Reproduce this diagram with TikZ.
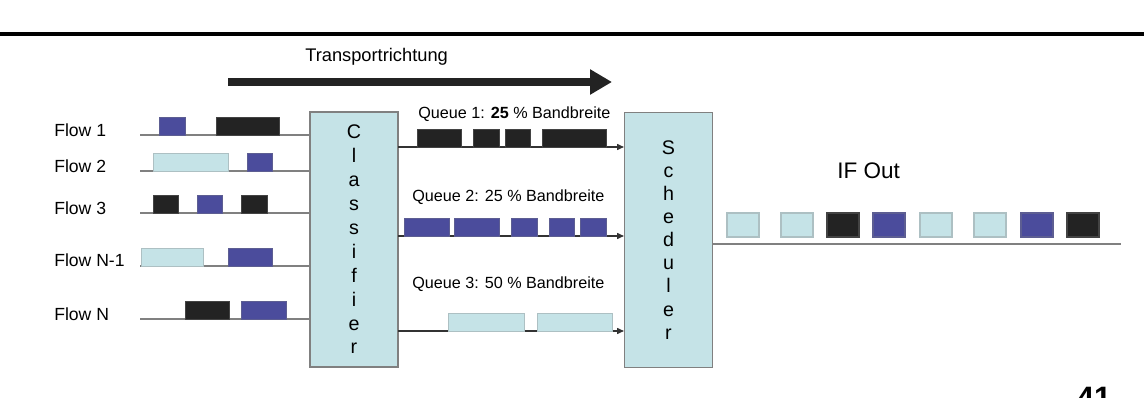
\documentclass[tikz,border=0pt]{standalone}
\usepackage{fontspec}
\setmainfont{Liberation Sans}
\usetikzlibrary{arrows.meta}

\definecolor{pblue}{HTML}{4B4C9C}
\definecolor{pblack}{HTML}{232323}
\definecolor{pcyan}{HTML}{C5E3E7}
\definecolor{wiregray}{HTML}{808080}

\tikzset{
  wire/.style={draw=wiregray, line width=0.8pt},
  unit/.style={draw=wiregray, fill=pcyan, line width=0.8pt, minimum width=2.2cm, minimum height=6.375cm, align=center, inner sep=0pt},
  lbl/.style={anchor=base west, inner sep=0pt, font=\fontsize{12.5}{14}\selectfont},
  qlbl/.style={anchor=base west, inner sep=0pt, font=\fontsize{11.5}{13}\selectfont}
}

\begin{document}
\begin{tikzpicture}[x=0.025cm, y=-0.025cm]

\useasboundingbox (0,0) rectangle (1144,398);

\draw [black, line width=2.8pt] (0,34) -- (1144,34);

% direction of transport
\node[anchor=base west, inner sep=0pt, font=\fontsize{13}{15}\selectfont] (dir) at (305,62) {Transportrichtung};
\coordinate (dira) at (228,82);
\coordinate (dirb) at (612,82);
\draw [pblack, line width=5pt, -{Triangle[length=0.55cm,width=0.6cm]}] (dira) -- (dirb);

% classifier and scheduler
\node[unit, font=\fontsize{14}{17}\selectfont, text depth=0pt] (cls) at (354,239.5) {C\\l\\a\\s\\s\\i\\f\\i\\e\\r};
\node[unit, font=\fontsize{14}{16.4}\selectfont] (sch) at (668.5,240) {S\\c\\h\\e\\d\\u\\l\\e\\r};

% flows
\node[lbl] (fl1) at (54,137) {Flow 1};
\node[lbl] (fl2) at (54,173) {Flow 2};
\node[lbl] (fl3) at (54,215) {Flow 3};
\node[lbl] (fl4) at (54,267) {Flow N-1};
\node[lbl] (fl5) at (54,321) {Flow N};

\coordinate (f1) at (140,135);
\coordinate (f2) at (140,171);
\coordinate (f3) at (140,213);
\coordinate (f4) at (140,266);
\coordinate (f5) at (140,319);
\foreach \f in {f1,f2,f3,f4,f5}
  \draw [wire] (\f) -- (\f -| cls.west);

\foreach \xa/\xb/\yb/\c in {159/185/135/pblue, 216/279/135/pblack,
    153/228/171/pcyan, 247/272/171/pblue,
    153/178/213/pblack, 197/222/213/pblue, 241/267/213/pblack,
    141/203/266/pcyan, 228/272/266/pblue,
    185/229/319/pblack, 241/286/319/pblue}
  \filldraw [fill=\c, draw=\c!65!gray, line width=0.5pt] (\xa,\yb-17.5) rectangle (\xb,\yb);

% queues
\node[qlbl] (q1) at (418,119) {Queue 1: \textbf{25} \% Bandbreite};
\node[qlbl] (q2) at (412,202) {Queue 2: 25 \% Bandbreite};
\node[qlbl] (q3) at (412,289) {Queue 3: 50 \% Bandbreite};

\coordinate (qa) at (398,147);
\coordinate (qb) at (398,236);
\coordinate (qc) at (398,331);
\foreach \q in {qa,qb,qc}
  \draw [wire, -{Triangle[length=0.17cm,width=0.15cm]}, black!80] (\q) -- (\q -| sch.west);

\foreach \xa/\xb/\yb/\c in {417/461/147/pblack, 473/499/147/pblack, 505/530/147/pblack, 542/606/147/pblack,
    404/449/236/pblue, 454/499/236/pblue, 511/537/236/pblue, 549/574/236/pblue, 580/606/236/pblue,
    448/524/331/pcyan, 537/612/331/pcyan}
  \filldraw [fill=\c, draw=\c!65!gray, line width=0.5pt] (\xa,\yb-17.5) rectangle (\xb,\yb);

% output
\node[anchor=base west, inner sep=0pt, font=\fontsize{16}{18}\selectfont] (ifout) at (837,179) {IF Out};
\coordinate (oend) at (1121,244);
\draw [wire] (sch.east |- oend) -- (oend);

\foreach \xa/\c in {727/pcyan, 781/pcyan, 827/pblack, 873/pblue, 920/pcyan, 974/pcyan, 1021/pblue, 1067/pblack}
  \filldraw [fill=\c, draw=\c!65!gray, line width=0.8pt] (\xa,213) rectangle (\xa+32,237);

\node[anchor=north, inner sep=0pt, font=\bfseries\fontsize{22}{22}\selectfont] (pg) at (1094,387) {41};

\end{tikzpicture}
\end{document}
